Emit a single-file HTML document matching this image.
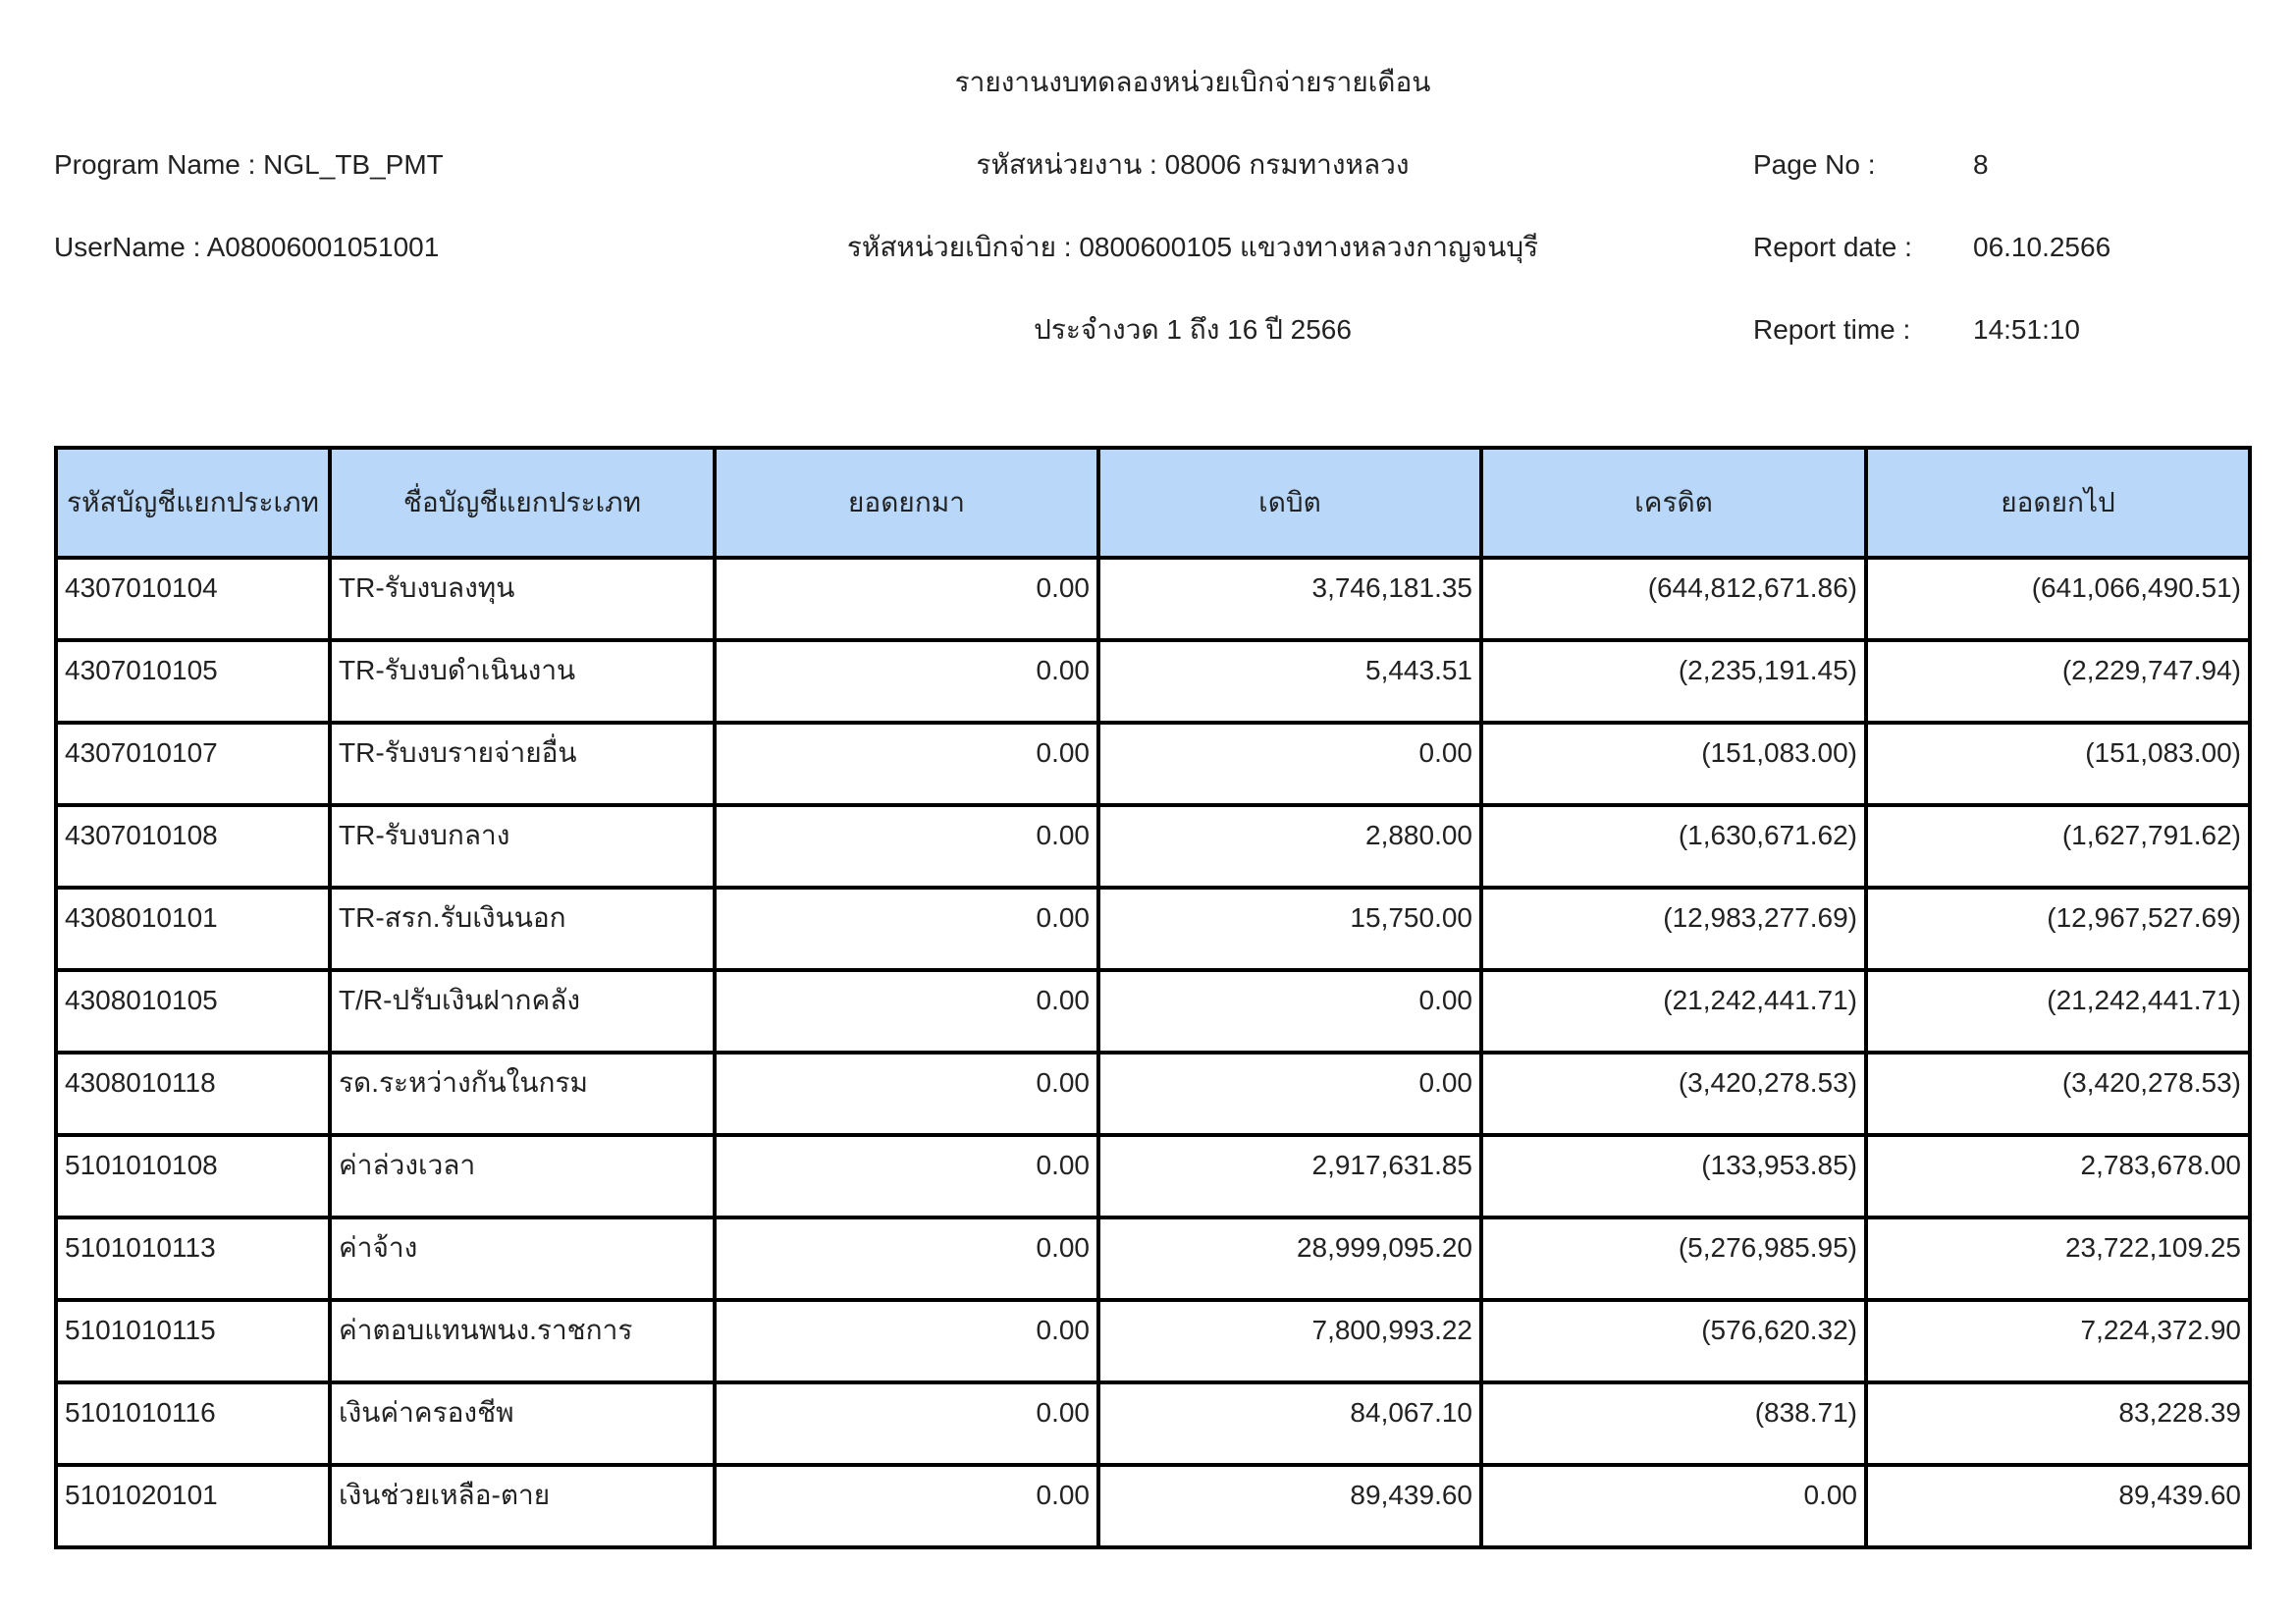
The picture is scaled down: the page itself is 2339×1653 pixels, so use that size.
<!DOCTYPE html>
<html><head><meta charset="utf-8"><style>
body{margin:0;width:2339px;height:1653px;background:#fff;position:relative;font-family:"Liberation Sans","Noto Sans CJK SC",sans-serif;color:#222;font-size:28px;overflow:hidden}
.t{position:absolute;white-space:nowrap;line-height:1}
.c{transform:translateX(-50%)}
table{position:absolute;left:55px;top:454px;width:2235px;border-collapse:collapse;table-layout:fixed}
tr{height:84px}
td{border:4px solid #000;box-sizing:border-box;vertical-align:top;padding:12px 7px 0 7px;white-space:nowrap;line-height:1.2;overflow:hidden}
tr.h{height:112px}
tr.h td{background:#b9d7f9;vertical-align:middle;text-align:center;padding:0 4px}
td.n{text-align:right}
</style></head><body>
<div class="t c" style="left:1215px;top:70px">รายงานงบทดลองหน่วยเบิกจ่ายรายเดือน</div>
<div class="t" style="left:55px;top:154px">Program Name : NGL_TB_PMT</div>
<div class="t c" style="left:1215px;top:154px">รหัสหน่วยงาน : 08006 กรมทางหลวง</div>
<div class="t" style="left:1786px;top:154px">Page No :</div>
<div class="t" style="left:2010px;top:154px">8</div>
<div class="t" style="left:55px;top:238px">UserName : A08006001051001</div>
<div class="t c" style="left:1215px;top:238px">รหัสหน่วยเบิกจ่าย : 0800600105 แขวงทางหลวงกาญจนบุรี</div>
<div class="t" style="left:1786px;top:238px">Report date :</div>
<div class="t" style="left:2010px;top:238px">06.10.2566</div>
<div class="t c" style="left:1215px;top:322px">ประจำงวด 1 ถึง 16 ปี 2566</div>
<div class="t" style="left:1786px;top:322px">Report time :</div>
<div class="t" style="left:2010px;top:322px">14:51:10</div>
<table>
<colgroup><col style="width:279px"><col style="width:392px"><col style="width:391px"><col style="width:390px"><col style="width:392px"><col style="width:391px"></colgroup>
<tr class="h"><td>รหัสบัญชีแยกประเภท</td><td>ชื่อบัญชีแยกประเภท</td><td>ยอดยกมา</td><td>เดบิต</td><td>เครดิต</td><td>ยอดยกไป</td></tr>
<tr><td>4307010104</td><td>TR-รับงบลงทุน</td><td class="n">0.00</td><td class="n">3,746,181.35</td><td class="n">(644,812,671.86)</td><td class="n">(641,066,490.51)</td></tr>
<tr><td>4307010105</td><td>TR-รับงบดำเนินงาน</td><td class="n">0.00</td><td class="n">5,443.51</td><td class="n">(2,235,191.45)</td><td class="n">(2,229,747.94)</td></tr>
<tr><td>4307010107</td><td>TR-รับงบรายจ่ายอื่น</td><td class="n">0.00</td><td class="n">0.00</td><td class="n">(151,083.00)</td><td class="n">(151,083.00)</td></tr>
<tr><td>4307010108</td><td>TR-รับงบกลาง</td><td class="n">0.00</td><td class="n">2,880.00</td><td class="n">(1,630,671.62)</td><td class="n">(1,627,791.62)</td></tr>
<tr><td>4308010101</td><td>TR-สรก.รับเงินนอก</td><td class="n">0.00</td><td class="n">15,750.00</td><td class="n">(12,983,277.69)</td><td class="n">(12,967,527.69)</td></tr>
<tr><td>4308010105</td><td>T/R-ปรับเงินฝากคลัง</td><td class="n">0.00</td><td class="n">0.00</td><td class="n">(21,242,441.71)</td><td class="n">(21,242,441.71)</td></tr>
<tr><td>4308010118</td><td>รด.ระหว่างกันในกรม</td><td class="n">0.00</td><td class="n">0.00</td><td class="n">(3,420,278.53)</td><td class="n">(3,420,278.53)</td></tr>
<tr><td>5101010108</td><td>ค่าล่วงเวลา</td><td class="n">0.00</td><td class="n">2,917,631.85</td><td class="n">(133,953.85)</td><td class="n">2,783,678.00</td></tr>
<tr><td>5101010113</td><td>ค่าจ้าง</td><td class="n">0.00</td><td class="n">28,999,095.20</td><td class="n">(5,276,985.95)</td><td class="n">23,722,109.25</td></tr>
<tr><td>5101010115</td><td>ค่าตอบแทนพนง.ราชการ</td><td class="n">0.00</td><td class="n">7,800,993.22</td><td class="n">(576,620.32)</td><td class="n">7,224,372.90</td></tr>
<tr><td>5101010116</td><td>เงินค่าครองชีพ</td><td class="n">0.00</td><td class="n">84,067.10</td><td class="n">(838.71)</td><td class="n">83,228.39</td></tr>
<tr><td>5101020101</td><td>เงินช่วยเหลือ-ตาย</td><td class="n">0.00</td><td class="n">89,439.60</td><td class="n">0.00</td><td class="n">89,439.60</td></tr>
</table>
</body></html>
